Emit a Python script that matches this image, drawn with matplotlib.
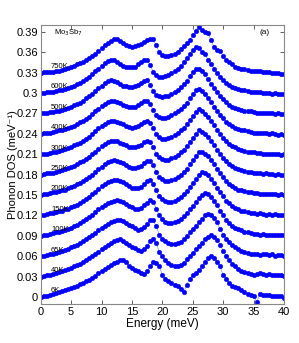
import numpy as np
import matplotlib.pyplot as plt

# energy grid (meV), one point every 0.5 meV
energy = np.arange(0, 40.01, 0.5)

temps = ['6K', '40K', '65K', '100K', '150K', '200K', '250K', '300K',
         '400K', '500K', '600K', '750K']
offset = 0.03

dos_6K = [0.000, 0.001, 0.002, 0.003, 0.0045, 0.006, 0.007, 0.009, 0.010, 0.012,
          0.0135, 0.015, 0.017, 0.019, 0.021, 0.023, 0.025, 0.028, 0.031, 0.035,
          0.038, 0.041, 0.044, 0.047, 0.050, 0.052, 0.054, 0.055, 0.051, 0.046,
          0.043, 0.040, 0.038, 0.036, 0.034, 0.038, 0.045, 0.052, 0.050, 0.045,
          0.033, 0.026, 0.023, 0.020, 0.018, 0.016, 0.012, 0.007, 0.018, 0.027,
          0.032, 0.036, 0.040, 0.045, 0.052, 0.058, 0.061, 0.058, 0.052, 0.045,
          0.032, 0.026, 0.021, 0.017, 0.015, 0.014, 0.011, 0.008, 0.005, 0.003,
          0.001, -0.007, 0.004, 0.003, 0.003, 0.003, 0.002, 0.002, 0.002, 0.001,
          -0.002]
dos_40K = [0.000, 0.001, 0.002, 0.003, 0.004, 0.005, 0.007, 0.008, 0.010, 0.011,
           0.013, 0.015, 0.017, 0.019, 0.021, 0.024, 0.027, 0.030, 0.033, 0.037,
           0.041, 0.044, 0.047, 0.050, 0.052, 0.054, 0.055, 0.053, 0.050, 0.046,
           0.044, 0.042, 0.039, 0.038, 0.040, 0.045, 0.052, 0.055, 0.050, 0.036,
           0.030, 0.024, 0.020, 0.017, 0.016, 0.016, 0.017, 0.020, 0.026, 0.031,
           0.035, 0.040, 0.045, 0.050, 0.055, 0.059, 0.061, 0.058, 0.054, 0.047,
           0.038, 0.030, 0.024, 0.019, 0.015, 0.012, 0.009, 0.007, 0.005, 0.004,
           0.003, 0.004, 0.005, 0.004, 0.003, 0.004, 0.003, 0.002, 0.003, 0.002,
           0.001]
dos_65K = [0.000, 0.001, 0.002, 0.003, 0.004, 0.005, 0.006, 0.008, 0.009, 0.011,
           0.013, 0.015, 0.017, 0.019, 0.022, 0.025, 0.028, 0.031, 0.034, 0.038,
           0.042, 0.045, 0.048, 0.050, 0.052, 0.054, 0.053, 0.052, 0.049, 0.046,
           0.044, 0.041, 0.039, 0.040, 0.043, 0.048, 0.054, 0.053, 0.044, 0.032,
           0.026, 0.022, 0.019, 0.018, 0.018, 0.019, 0.021, 0.025, 0.030, 0.035,
           0.040, 0.045, 0.050, 0.055, 0.060, 0.062, 0.060, 0.056, 0.050, 0.040,
           0.032, 0.026, 0.021, 0.017, 0.013, 0.010, 0.008, 0.006, 0.005, 0.004,
           0.003, 0.003, 0.002, 0.004, 0.003, 0.002, 0.003, 0.001, 0.002, 0.002,
           0.001]
dos_100K = [0.000, 0.001, 0.002, 0.003, 0.004, 0.005, 0.006, 0.007, 0.009, 0.010,
            0.012, 0.014, 0.016, 0.019, 0.022, 0.025, 0.028, 0.031, 0.035, 0.039,
            0.042, 0.045, 0.048, 0.050, 0.052, 0.053, 0.052, 0.050, 0.047, 0.044,
            0.042, 0.040, 0.039, 0.041, 0.045, 0.049, 0.053, 0.050, 0.040, 0.030,
            0.025, 0.021, 0.019, 0.019, 0.020, 0.022, 0.025, 0.029, 0.034, 0.039,
            0.044, 0.050, 0.055, 0.060, 0.063, 0.061, 0.057, 0.052, 0.045, 0.037,
            0.030, 0.024, 0.019, 0.015, 0.012, 0.010, 0.008, 0.006, 0.005, 0.004,
            0.003, 0.003, 0.002, 0.003, 0.002, 0.002, 0.001, 0.002, 0.001, 0.001,
            0.002]
dos_150K = [0.000, 0.001, 0.002, 0.003, 0.004, 0.005, 0.006, 0.007, 0.009, 0.010,
            0.012, 0.014, 0.016, 0.018, 0.021, 0.024, 0.027, 0.031, 0.035, 0.039,
            0.043, 0.046, 0.049, 0.051, 0.052, 0.052, 0.051, 0.049, 0.046, 0.043,
            0.041, 0.040, 0.040, 0.042, 0.046, 0.050, 0.052, 0.047, 0.037, 0.028,
            0.024, 0.021, 0.020, 0.020, 0.022, 0.024, 0.027, 0.031, 0.036, 0.042,
            0.048, 0.054, 0.060, 0.064, 0.062, 0.059, 0.054, 0.048, 0.041, 0.034,
            0.028, 0.022, 0.018, 0.014, 0.011, 0.009, 0.007, 0.006, 0.005, 0.004,
            0.003, 0.002, 0.003, 0.002, 0.001, 0.002, 0.001, 0.002, 0.001, 0.000,
            0.001]
dos_200K = [0.000, 0.001, 0.002, 0.003, 0.004, 0.005, 0.006, 0.007, 0.008, 0.010,
            0.012, 0.014, 0.016, 0.018, 0.021, 0.024, 0.027, 0.030, 0.034, 0.038,
            0.042, 0.046, 0.049, 0.050, 0.051, 0.050, 0.049, 0.047, 0.044, 0.042,
            0.040, 0.040, 0.041, 0.043, 0.047, 0.050, 0.050, 0.044, 0.034, 0.027,
            0.023, 0.021, 0.021, 0.022, 0.024, 0.027, 0.030, 0.034, 0.039, 0.045,
            0.051, 0.057, 0.063, 0.064, 0.061, 0.058, 0.052, 0.046, 0.039, 0.033,
            0.027, 0.021, 0.017, 0.013, 0.010, 0.008, 0.007, 0.006, 0.005, 0.004,
            0.003, 0.003, 0.002, 0.002, 0.001, 0.001, 0.002, 0.001, 0.000, 0.001,
            0.000]
dos_250K = [0.000, 0.001, 0.002, 0.003, 0.003, 0.004, 0.005, 0.007, 0.008, 0.010,
            0.011, 0.013, 0.015, 0.018, 0.020, 0.023, 0.026, 0.030, 0.034, 0.038,
            0.042, 0.045, 0.048, 0.050, 0.050, 0.049, 0.047, 0.045, 0.043, 0.041,
            0.040, 0.040, 0.042, 0.044, 0.048, 0.050, 0.048, 0.040, 0.031, 0.026,
            0.023, 0.022, 0.022, 0.024, 0.026, 0.029, 0.033, 0.037, 0.042, 0.048,
            0.054, 0.060, 0.065, 0.063, 0.060, 0.056, 0.050, 0.044, 0.037, 0.031,
            0.025, 0.020, 0.016, 0.013, 0.010, 0.008, 0.007, 0.006, 0.004, 0.004,
            0.003, 0.002, 0.002, 0.001, 0.002, 0.001, 0.001, 0.000, 0.001, 0.000,
            0.000]
dos_300K = [0.000, 0.001, 0.001, 0.002, 0.003, 0.004, 0.005, 0.006, 0.008, 0.009,
            0.011, 0.013, 0.015, 0.017, 0.020, 0.023, 0.026, 0.030, 0.034, 0.038,
            0.042, 0.045, 0.048, 0.049, 0.049, 0.048, 0.046, 0.044, 0.042, 0.040,
            0.039, 0.040, 0.042, 0.045, 0.048, 0.049, 0.046, 0.038, 0.030, 0.025,
            0.023, 0.023, 0.024, 0.026, 0.028, 0.031, 0.035, 0.039, 0.044, 0.050,
            0.056, 0.062, 0.066, 0.063, 0.059, 0.055, 0.049, 0.043, 0.036, 0.030,
            0.024, 0.019, 0.015, 0.012, 0.010, 0.008, 0.006, 0.005, 0.004, 0.003,
            0.003, 0.002, 0.002, 0.001, 0.001, 0.001, 0.000, 0.001, 0.000, -0.001,
            0.000]
dos_400K = [0.000, 0.001, 0.001, 0.002, 0.003, 0.004, 0.005, 0.006, 0.007, 0.009,
            0.010, 0.012, 0.014, 0.017, 0.019, 0.022, 0.025, 0.029, 0.033, 0.037,
            0.041, 0.044, 0.047, 0.049, 0.049, 0.047, 0.045, 0.043, 0.041, 0.040,
            0.039, 0.040, 0.042, 0.045, 0.048, 0.049, 0.044, 0.035, 0.028, 0.025,
            0.024, 0.024, 0.025, 0.027, 0.030, 0.033, 0.037, 0.041, 0.046, 0.052,
            0.058, 0.064, 0.066, 0.063, 0.059, 0.053, 0.047, 0.040, 0.034, 0.028,
            0.023, 0.018, 0.014, 0.011, 0.009, 0.007, 0.006, 0.005, 0.004, 0.003,
            0.002, 0.002, 0.001, 0.001, 0.001, 0.000, 0.001, 0.000, -0.001, 0.000,
            -0.001]
dos_500K = [0.000, 0.000, 0.001, 0.002, 0.002, 0.003, 0.004, 0.005, 0.007, 0.008,
            0.010, 0.012, 0.014, 0.016, 0.019, 0.022, 0.025, 0.029, 0.033, 0.037,
            0.041, 0.045, 0.048, 0.049, 0.048, 0.046, 0.043, 0.041, 0.040, 0.039,
            0.039, 0.040, 0.042, 0.045, 0.048, 0.049, 0.042, 0.033, 0.027, 0.025,
            0.024, 0.025, 0.026, 0.028, 0.031, 0.035, 0.039, 0.043, 0.048, 0.055,
            0.061, 0.066, 0.066, 0.062, 0.058, 0.050, 0.044, 0.038, 0.032, 0.026,
            0.021, 0.017, 0.013, 0.010, 0.008, 0.007, 0.005, 0.004, 0.003, 0.003,
            0.002, 0.001, 0.001, 0.001, 0.000, 0.000, 0.000, -0.001, 0.000, -0.001,
            -0.001]
dos_600K = [0.000, 0.000, 0.001, 0.001, 0.002, 0.003, 0.004, 0.005, 0.006, 0.008,
            0.009, 0.011, 0.013, 0.015, 0.018, 0.021, 0.024, 0.028, 0.032, 0.036,
            0.040, 0.044, 0.047, 0.049, 0.048, 0.045, 0.042, 0.040, 0.039, 0.038,
            0.038, 0.039, 0.042, 0.045, 0.048, 0.049, 0.041, 0.031, 0.026, 0.024,
            0.024, 0.025, 0.027, 0.029, 0.032, 0.036, 0.040, 0.045, 0.051, 0.058,
            0.064, 0.068, 0.066, 0.061, 0.057, 0.049, 0.043, 0.036, 0.030, 0.024,
            0.019, 0.015, 0.012, 0.009, 0.007, 0.006, 0.005, 0.004, 0.003, 0.002,
            0.002, 0.001, 0.001, 0.000, 0.000, 0.000, -0.001, 0.000, -0.001, -0.001,
            -0.002]
dos_750K = [0.000, 0.0003, 0.0006, 0.001, 0.0015, 0.002, 0.003, 0.004, 0.0055, 0.007,
            0.0085, 0.010, 0.012, 0.014, 0.016, 0.019, 0.022, 0.025, 0.028, 0.032,
            0.036, 0.040, 0.044, 0.047, 0.049, 0.049, 0.047, 0.044, 0.041, 0.039,
            0.038, 0.039, 0.040, 0.042, 0.045, 0.048, 0.050, 0.049, 0.040, 0.030,
            0.026, 0.024, 0.025, 0.026, 0.028, 0.031, 0.035, 0.039, 0.043, 0.048,
            0.055, 0.061, 0.0675, 0.063, 0.060, 0.058, 0.048, 0.037, 0.034, 0.032,
            0.024, 0.018, 0.015, 0.012, 0.009, 0.007, 0.006, 0.005, 0.004, 0.003,
            0.003, 0.002, 0.002, 0.001, 0.001, 0.001, 0.000, 0.000, -0.001, -0.002,
            -0.002]

curves = [dos_6K, dos_40K, dos_65K, dos_100K, dos_150K, dos_200K, dos_250K,
          dos_300K, dos_400K, dos_500K, dos_600K, dos_750K]

plt.rcParams['font.family'] = ['Liberation Sans', 'DejaVu Sans']
fig = plt.figure(figsize=(2.99, 3.43), dpi=100)
ax = fig.add_axes([0.136, 0.114, 0.814, 0.813])

for i, (t, d) in enumerate(zip(temps, curves)):
    y = np.array(d) + i * offset
    ax.plot(energy, y, '-', color='#5577ff', lw=0.4, zorder=1)
    ax.plot(energy, y, 'o', color='#0000ff', ms=3.3, mec='#0000ff', mew=0.3, zorder=2)
    ax.text(1.7, i * offset + 0.004, t, fontsize=5.5, va='bottom', ha='left')

ax.text(2.2, 0.388, r'Mo$_3$Sb$_7$', fontsize=5.5, va='center', ha='left')
ax.text(36.0, 0.389, '(a)', fontsize=6, va='center', ha='left')

ax.set_xlim(0, 40)
ax.set_ylim(-0.01, 0.4)
ax.set_xticks(np.arange(0, 41, 5))
yt = np.arange(0, 0.391, 0.03)
ax.set_yticks(yt)
ax.set_yticklabels(['0', '0.03', '0.06', '0.09', '0.12', '0.15', '0.18', '0.21',
                    '0.24', '0.27', '0.3', '0.33', '0.36', '0.39'])
ax.tick_params(direction='in', top=True, right=True, labelsize=8, length=3,
               width=0.6, color='#444444', pad=2)
for s in ax.spines.values():
    s.set_color('#888888')
    s.set_linewidth(0.8)
ax.set_xlabel('Energy (meV)', fontsize=8.5, labelpad=1)
ax.set_ylabel('Phonon DOS (meV\u207b\u00b9)', fontsize=8)
ax.yaxis.set_label_coords(-0.094, 0.5)

fig.savefig('out.png', dpi=100)
